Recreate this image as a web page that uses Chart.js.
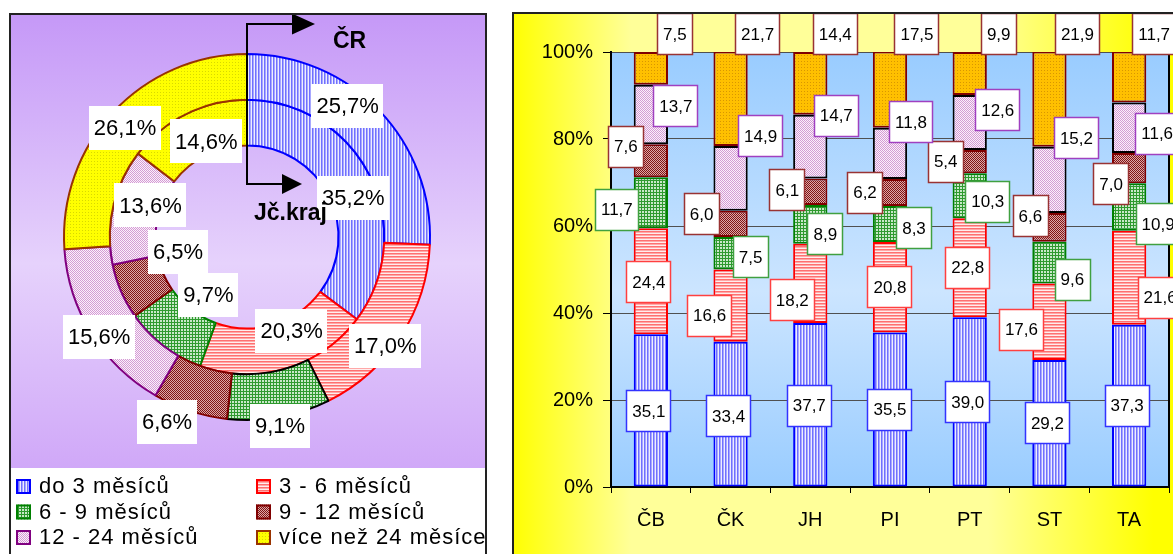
<!DOCTYPE html>
<html lang="cs">
<head>
<meta charset="utf-8">
<title>Uchazeči podle doby evidence</title>
<script src="https://cdn.jsdelivr.net/npm/chart.js@4.4.1/dist/chart.umd.min.js"></script>
<style>
  html, body { margin: 0; padding: 0; background: #fff; }
  body { width: 1173px; height: 554px; overflow: hidden; position: relative; }
  #ring { position: absolute; left: 9px; top: 13px; }
  #bars { position: absolute; left: 512px; top: 12px; }
</style>
</head>
<body>
<canvas id="ring" width="478" height="545"></canvas>
<canvas id="bars" width="670" height="545"></canvas>
<script>
Chart.defaults.font.family = 'Arial, "Liberation Sans", sans-serif';
Chart.defaults.color = '#000';

// --- data ---
const seriesNames = ['do 3 měsíců', '3 - 6 měsíců', '6 - 9 měsíců', '9 - 12 měsíců', '12 - 24 měsíců', 'více než 24 měsíce'];
const ringCR = [25.7, 17.0, 9.1, 6.6, 15.6, 26.1];
const ringJck = [35.2, 20.3, 9.7, 6.5, 13.6, 14.6];

const categories = ['ČB', 'ČK', 'JH', 'PI', 'PT', 'ST', 'TA'];
const do3 = [35.1, 33.4, 37.7, 35.5, 39.0, 29.2, 37.3];
const m3to6 = [24.4, 16.6, 18.2, 20.8, 22.8, 17.6, 21.6];
const m6to9 = [11.7, 7.5, 8.9, 8.3, 10.3, 9.6, 10.9];
const m9to12 = [7.6, 6.0, 6.1, 6.2, 5.4, 6.6, 7.0];
const m12to24 = [13.7, 14.9, 14.7, 11.8, 12.6, 15.2, 11.6];
const over24 = [7.5, 21.7, 14.4, 17.5, 9.9, 21.9, 11.7];
const yTicks = [0, 20, 40, 60, 80, 100];

const barSeries = [do3, m3to6, m6to9, m9to12, m12to24, over24];

// posunutí popisků (px) – v předloze ručně rozmístěné
const ringLabelShift = [
  [[-15, -20], [4, 22], [5, 31], [-30, 33], [-12, 15], [-5, 0]],
  [[4, 12], [12, -16], [31, -33], [36, -30], [15, -6], [10, 7]]
];
const barLabelShift = [
  [[-2, 1], [-2, 2], [-1, 1], [0, 0], [-2, 0], [-2, 0], [-2, 0]],
  [[-2, 1], [-21, 10], [-18, 17], [0, 0], [-2, 0], [-28, 8], [31, 20]],
  [[-34, 7], [20, 4], [15, 10], [24, 4], [18, 6], [23, 17], [29, 17]],
  [[-25, -14], [-29, -10], [-23, -2], [-25, 0], [-24, 0], [-19, -11], [-18, 16]],
  [[25, -8], [30, -42], [26, -31], [21, -31], [28, -12], [27, -42], [28, 6]],
  [[24, 0], [27, 0], [25, 0], [27, 0], [29, 0], [28, 0], [25, 0]]
];

const fmt = v => v.toFixed(1).replace('.', ',');

// vzorky výplní jako v Excelu
function makePattern(w, h, bg, rects) {
  const c = document.createElement('canvas');
  c.width = w; c.height = h;
  const g = c.getContext('2d');
  g.fillStyle = bg;
  g.fillRect(0, 0, w, h);
  rects.forEach(([x, y, rw, rh, col]) => { g.fillStyle = col; g.fillRect(x, y, rw, rh); });
  return g.createPattern(c, 'repeat');
}
const fill = {
  blue: makePattern(3, 1, '#EDEDFF', [[0, 0, 1, 1, '#7070FF'], [1, 0, 1, 1, '#A8A8FF']]),
  red: makePattern(1, 3, '#FFEDED', [[0, 0, 1, 1, '#FF7070'], [0, 1, 1, 1, '#FFA8A8']]),
  green: makePattern(3, 3, '#C8E8C8', [[0, 0, 3, 1, '#2E9A2E'], [0, 0, 1, 3, '#2E9A2E']]),
  darkred: makePattern(2, 2, '#DDA8A8', [[0, 0, 1, 1, '#801414'], [1, 1, 1, 1, '#801414']]),
  pink: makePattern(2, 2, '#FBF0FB', [[0, 0, 1, 1, '#D49CD4'], [1, 1, 1, 1, '#D49CD4']]),
  yellow: makePattern(3, 3, '#FFFF00', [[1, 1, 1, 1, '#D8D800']]),
  orange: makePattern(3, 3, '#FFC000', [[1, 1, 1, 1, '#D89600']])
};
const ringFills = [fill.blue, fill.red, fill.green, fill.darkred, fill.pink, fill.yellow];
const barFills = [fill.blue, fill.red, fill.green, fill.darkred, fill.pink, fill.orange];
const legendBorders = ['#0000FF', '#FF0000', '#008000', '#800000', '#800080', '#993300'];
const outerBorders = ['#0000FF', '#FF0000', '#000000', '#800000', '#800080', '#993300'];
const barBorders = ['#0000FF', '#FF0000', '#008000', '#800000', '#000000', '#800000'];
const barLabelBorders = ['#3333FF', '#FF4040', '#40A040', '#993333', '#A040C0', '#993333'];

function labelBox(ctx, text, x, y, font, padX, h, border) {
  ctx.save();
  ctx.font = font;
  const w = ctx.measureText(text).width + padX * 2;
  const l = Math.round(x - w / 2), t = Math.round(y - h / 2);
  ctx.fillStyle = '#fff';
  ctx.fillRect(l, t, Math.round(w), h);
  if (border) {
    ctx.strokeStyle = border;
    ctx.lineWidth = 1.5;
    ctx.strokeRect(l + 0.5, t + 0.5, Math.round(w) - 1, h - 1);
  }
  ctx.fillStyle = '#000';
  ctx.textAlign = 'center';
  ctx.textBaseline = 'middle';
  ctx.fillText(text, x, y + 1);
  ctx.restore();
}

function arrow(ctx, x0, x1, y, half) {
  ctx.beginPath();
  ctx.moveTo(x0, y - half);
  ctx.lineTo(x1, y);
  ctx.lineTo(x0, y + half);
  ctx.closePath();
  ctx.fill();
}

// --- levý graf: mezikruží ČR / Jč.kraj ---
const ringPanel = {
  id: 'ringPanel',
  beforeDraw(chart) {
    const { ctx, width, height } = chart;
    ctx.save();
    ctx.fillStyle = '#fff';
    ctx.fillRect(0, 0, width, height);
    const g = ctx.createLinearGradient(0, 0, 0, 455);
    g.addColorStop(0, '#C598F7');
    g.addColorStop(0.55, '#E6D2FC');
    g.addColorStop(1, '#D0A8F8');
    ctx.fillStyle = g;
    ctx.fillRect(0, 0, width, 455);
    ctx.restore();
  },
  afterDatasetsDraw(chart) {
    const { ctx } = chart;
    chart.data.datasets.forEach((ds, d) => {
      chart.getDatasetMeta(d).data.forEach((arc, i) => {
        const p = arc.getCenterPoint();
        const [dx, dy] = ringLabelShift[d][i];
        labelBox(ctx, fmt(ds.data[i]) + '%', p.x + dx, p.y + dy, '22px Arial, "Liberation Sans"', 5, 44, null);
      });
    });
  },
  afterDraw(chart) {
    const { ctx, chartArea: a, width, height } = chart;
    const cx = (a.left + a.right) / 2, cy = (a.top + a.bottom) / 2;
    ctx.save();
    // šipky s popisky řad
    ctx.strokeStyle = '#000';
    ctx.fillStyle = '#000';
    ctx.lineWidth = 2;
    ctx.beginPath();
    ctx.moveTo(cx + 46, cy - 213);
    ctx.lineTo(cx, cy - 213);
    ctx.lineTo(cx, cy - 53);
    ctx.lineTo(cx + 36, cy - 53);
    ctx.stroke();
    arrow(ctx, cx + 45, cx + 68, cy - 213, 10.5);
    arrow(ctx, cx + 35, cx + 55, cy - 53, 10);
    ctx.font = 'bold 23px Arial, "Liberation Sans"';
    ctx.textBaseline = 'middle';
    ctx.textAlign = 'left';
    ctx.fillText(chart.data.datasets[0].label, cx + 86, cy - 195);
    ctx.fillText(chart.data.datasets[1].label, cx + 7, cy - 23);

    // legenda
    ctx.font = '22px Arial, "Liberation Sans"';
    ctx.letterSpacing = '1px';
    seriesNames.forEach((name, i) => {
      const col = i % 2, row = Math.floor(i / 2);
      const bx = col ? 247 : 7;
      const yc = 473 + row * 25.5;
      ctx.fillStyle = ringFills[i];
      ctx.fillRect(bx, yc - 7, 15, 15);
      ctx.strokeStyle = legendBorders[i];
      ctx.lineWidth = 2;
      ctx.strokeRect(bx + 1, yc - 6, 13, 13);
      ctx.fillStyle = '#000';
      ctx.fillText(name, bx + 23, yc + 1);
    });
    ctx.letterSpacing = '0px';

    ctx.strokeStyle = '#222';
    ctx.lineWidth = 2;
    ctx.strokeRect(1, 1, width - 2, height);
    ctx.restore();
  }
};

new Chart(document.getElementById('ring'), {
  type: 'doughnut',
  data: {
    labels: seriesNames,
    datasets: [
      { label: 'ČR', data: ringCR, backgroundColor: ringFills, borderColor: outerBorders, borderWidth: 2 },
      { label: 'Jč.kraj', data: ringJck, backgroundColor: ringFills, borderColor: legendBorders, borderWidth: 2 }
    ]
  },
  options: {
    responsive: false,
    animation: false,
    cutout: '50%',
    offset: 0,
    hoverOffset: 0,
    layout: { padding: { left: 54, top: 40, right: 56, bottom: 137 } },
    plugins: { legend: { display: false }, tooltip: { enabled: false } }
  },
  plugins: [ringPanel]
});

// --- pravý graf: okresy ---
const barPanel = {
  id: 'barPanel',
  beforeDraw(chart) {
    const { ctx, chartArea: a, width, height } = chart;
    ctx.save();
    const g = ctx.createLinearGradient(0, 0, 661, 0);
    g.addColorStop(0, '#FFFF00');
    g.addColorStop(0.18, '#FFFF99');
    g.addColorStop(0.72, '#FFFF99');
    g.addColorStop(0.97, '#FFFF00');
    ctx.fillStyle = g;
    ctx.fillRect(0, 0, width, height);
    const p = ctx.createLinearGradient(0, a.top, 0, a.bottom);
    p.addColorStop(0, '#99CCFF');
    p.addColorStop(0.55, '#CCE5FF');
    p.addColorStop(1, '#99CCFF');
    ctx.fillStyle = p;
    ctx.fillRect(a.left, a.top, a.right - a.left, a.bottom - a.top);
    ctx.restore();
  },
  afterDatasetsDraw(chart) {
    const { ctx, chartArea: a } = chart;
    ctx.save();
    ctx.strokeStyle = '#000';
    ctx.lineWidth = 2;
    ctx.beginPath();
    ctx.moveTo(a.right, a.top);
    ctx.lineTo(a.right, a.bottom);
    ctx.stroke();
    ctx.restore();
    chart.data.datasets.forEach((ds, i) => {
      chart.getDatasetMeta(i).data.forEach((bar, j) => {
        const [dx, dy] = barLabelShift[i][j];
        const y = i === barSeries.length - 1 ? a.top - 18 : (bar.y + bar.base) / 2 + dy;
        labelBox(ctx, fmt(ds.data[j]), bar.x + dx, y, '17px Arial, "Liberation Sans"', 6, 42, barLabelBorders[i]);
      });
    });
  },
  afterDraw(chart) {
    const { ctx, width, height } = chart;
    ctx.save();
    ctx.strokeStyle = '#222';
    ctx.lineWidth = 2;
    ctx.strokeRect(1, 1, width, height);
    ctx.restore();
  }
};

new Chart(document.getElementById('bars'), {
  type: 'bar',
  data: {
    labels: categories,
    datasets: barSeries.map((vals, i) => ({
      label: seriesNames[i],
      data: vals,
      backgroundColor: barFills[i],
      borderColor: barBorders[i],
      borderWidth: 2,
      borderSkipped: false,
      barPercentage: 0.43,
      categoryPercentage: 1
    }))
  },
  options: {
    responsive: false,
    animation: false,
    layout: { padding: { left: 0, top: 40, right: 13, bottom: 0 } },
    scales: {
      x: {
        stacked: true,
        grid: { display: true, drawOnChartArea: false, tickLength: 6, tickColor: '#000', offset: true },
        border: { color: '#000', width: 2 },
        ticks: { color: '#000', font: { size: 20 }, padding: 15 },
        afterFit: s => { s.height = 70; }
      },
      y: {
        stacked: true,
        min: 0,
        max: 100,
        afterBuildTicks: s => { s.ticks = yTicks.map(v => ({ value: v })); },
        ticks: { callback: v => v + '%', color: '#000', font: { size: 20 }, padding: 10 },
        grid: { color: '#505050', lineWidth: 1, tickLength: 8, tickColor: '#000' },
        border: { color: '#000', width: 2 },
        afterFit: s => { s.width = 99; }
      }
    },
    plugins: { legend: { display: false }, tooltip: { enabled: false } }
  },
  plugins: [barPanel]
});
</script>
</body>
</html>
